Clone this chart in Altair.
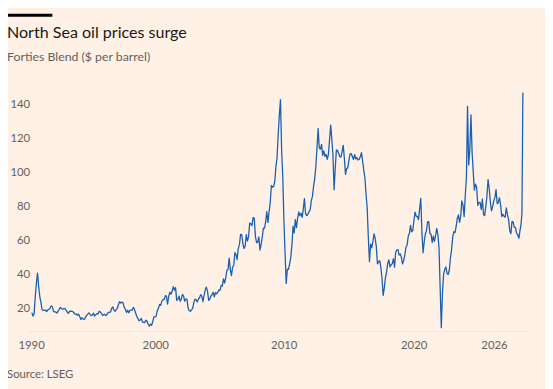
import altair as alt
import pandas as pd

# Forties Blend monthly values ($ per barrel)
p1990 = [17.8, 15.8, 17.2, 27.2, 35.5, 41.0, 32.8, 27.0]  # May-Dec
p1991 = [23.6, 19.5, 19.1, 19.2, 19.2, 18.4, 19.4, 19.8, 20.4, 21.8, 21.2, 18.5]
p1992 = [18.2, 18.2, 17.5, 18.7, 19.7, 20.9, 20.2, 19.8, 20.2, 20.3, 19.3, 18.2]
p1993 = [17.4, 18.5, 18.7, 18.6, 18.4, 17.6, 16.8, 17.0, 16.3, 16.9, 15.4, 13.8]
p1994 = [14.8, 14.0, 13.8, 15.0, 16.2, 16.9, 17.7, 16.8, 16.1, 16.3, 17.5, 15.8]
p1995 = [16.6, 17.2, 17.0, 18.6, 18.3, 17.4, 16.1, 16.6, 16.8, 16.1, 16.9, 18.0]
p1996 = [18.0, 18.2, 20.3, 21.1, 19.3, 18.6, 19.6, 20.5, 22.6, 24.3, 23.4, 24.0]
p1997 = [23.5, 20.9, 19.8, 17.9, 19.2, 17.7, 19.2, 19.3, 19.3, 20.9, 19.6, 17.6]
p1998 = [15.5, 14.3, 13.0, 13.5, 14.4, 12.2, 12.1, 12.0, 13.4, 12.8, 11.0, 9.8]
p1999 = [11.1, 10.3, 12.5, 15.3, 15.3, 15.8, 19.1, 20.3, 22.6, 22.1, 24.6, 25.5]
p2000 = [25.5, 27.8, 27.5, 22.8, 27.3, 29.8, 28.7, 30.2, 33.1, 31.0, 32.5, 25.0]
p2001 = [25.6, 27.5, 24.5, 25.6, 28.5, 27.7, 24.5, 25.8, 25.7, 20.5, 18.9, 18.6]
p2002 = [19.4, 20.3, 23.7, 25.7, 25.4, 24.1, 25.7, 26.6, 28.4, 27.5, 24.3, 28.0]
p2003 = [31.2, 32.8, 30.4, 25.0, 25.8, 27.6, 28.4, 29.8, 27.1, 29.6, 28.8, 29.8]
p2004 = [31.2, 30.9, 33.8, 33.4, 37.7, 35.2, 38.2, 42.7, 43.2, 49.8, 43.1, 39.6]
p2005 = [44.5, 45.5, 53.1, 51.9, 49.0, 55.6, 57.9, 63.8, 63.7, 58.5, 55.5, 56.8]
p2006 = [63.6, 59.9, 62.3, 70.4, 70.0, 68.9, 73.7, 73.2, 62.8, 58.9, 59.1, 62.3]
p2007 = [54.6, 57.8, 62.1, 67.5, 67.5, 71.3, 77.2, 70.8, 77.2, 82.4, 92.5, 91.5]
p2008 = [92.0, 95.0, 103.6, 109.1, 122.8, 134.0, 143.0, 113.2, 97.7, 72.0, 53.0, 35.0]
p2009 = [43.4, 43.3, 46.5, 50.2, 57.3, 68.6, 64.7, 72.5, 67.7, 73.2, 77.0, 74.7]
p2010 = [76.2, 73.8, 78.8, 84.8, 75.9, 74.8, 75.6, 77.1, 78.2, 83.5, 86.1, 92.0]
p2011 = [96.5, 103.7, 114.6, 126.0, 114.5, 113.9, 116.7, 110.2, 112.8, 109.6, 110.8, 107.9]
p2012 = [110.7, 119.3, 128.0, 119.8, 110.3, 90.0, 102.6, 113.4, 113.0, 111.5, 109.5, 109.2]
p2013 = [112.3, 116.1, 108.5, 99.0, 102.6, 102.9, 107.4, 110.9, 111.2, 109.5, 107.8, 110.6]
p2014 = [108.1, 108.9, 107.5, 107.8, 109.5, 111.8, 106.8, 101.6, 97.1, 87.4, 79.4, 62.3]
p2015 = [47.8, 58.1, 55.9, 59.5, 64.1, 61.5, 56.6, 46.5, 47.6, 48.4, 44.3, 38.0]
p2016 = [28.0, 32.2, 38.2, 41.6, 46.7, 48.8, 44.7, 46.0, 46.6, 49.5, 44.5, 53.3]
p2017 = [54.6, 54.9, 51.6, 52.3, 50.3, 46.4, 48.5, 51.7, 56.2, 57.5, 62.7, 64.4]
p2018 = [69.1, 65.3, 66.0, 72.1, 76.9, 74.4, 74.3, 72.5, 78.9, 85.0, 64.8, 53.0]
p2019 = [59.4, 64.0, 66.1, 71.2, 71.3, 64.2, 63.9, 59.0, 62.8, 59.7, 63.2, 67.3]
p2020 = [63.7, 55.7, 32.0, 9.0, 29.4, 40.3, 43.2, 44.7, 40.9, 40.2, 42.7, 49.9]
p2021 = [54.8, 62.3, 65.4, 64.8, 68.5, 73.2, 75.2, 70.8, 74.5, 83.5, 81.1, 74.2]
p2022 = [86.5, 97.1, 139.0, 104.6, 113.3, 134.0, 111.9, 100.5, 89.8, 93.3, 91.4, 80.9]
p2023 = [82.5, 82.6, 78.4, 84.6, 75.5, 74.8, 80.1, 86.2, 96.0, 90.6, 82.9, 77.6]
p2024 = [80.1, 83.5, 85.4, 90.1, 81.8, 82.6, 85.3, 80.9, 74.3, 75.6, 74.4, 73.9]
p2025 = [79.3, 75.2, 72.6, 66.0, 64.2, 71.4, 71.0, 67.9, 67.9, 64.5, 63.6, 61.5]
tail_t = [2026.04, 2026.12, 2026.18, 2026.22, 2026.25]
tail_v = [66.0, 70.0, 76.0, 112.0, 147.0]

years = {
    1990: p1990, 1991: p1991, 1992: p1992, 1993: p1993, 1994: p1994, 1995: p1995,
    1996: p1996, 1997: p1997, 1998: p1998, 1999: p1999, 2000: p2000, 2001: p2001,
    2002: p2002, 2003: p2003, 2004: p2004, 2005: p2005, 2006: p2006, 2007: p2007,
    2008: p2008, 2009: p2009, 2010: p2010, 2011: p2011, 2012: p2012, 2013: p2013,
    2014: p2014, 2015: p2015, 2016: p2016, 2017: p2017, 2018: p2018, 2019: p2019,
    2020: p2020, 2021: p2021, 2022: p2022, 2023: p2023, 2024: p2024, 2025: p2025,
}

y_ticks = [20, 40, 60, 80, 100, 120, 140]
x_labels = ["1990", "2000", "2010", "2020", "2026"]
x_label_pos = [1990.32, 1999.39, 2008.78, 2018.27, 2024.14]

rows = []
for yr, vals in years.items():
    m0 = 4 if yr == 1990 else 0
    for i, v in enumerate(vals):
        rows.append({"t": yr + (m0 + i + 0.5) / 12, "price": v})
for t, v in zip(tail_t, tail_v):
    rows.append({"t": t, "price": v})
df = pd.DataFrame(rows)

label_expr = " : ".join(
    f"abs(datum.value - {p}) < 0.01 ? '{l}'" for p, l in zip(x_label_pos, x_labels)
) + " : ''"

W, H = 507, 247
FONT = "Lato"
GREY = "#66605c"

line = alt.Chart(df).mark_line(color="#1b5fae", strokeWidth=1.3, strokeJoin="round").encode(
    x=alt.X("t:Q", scale=alt.Scale(domain=[1990, 2026.5], nice=False, zero=False),
            axis=alt.Axis(values=x_label_pos, labelExpr=label_expr, title=None,
                          ticks=False, grid=False, domain=True, domainColor="#f6e6d9",
                          labelPadding=9, labelFontSize=11.5, labelColor=GREY,
                          labelFont=FONT, labelFlush=False)),
    y=alt.Y("price:Q", scale=alt.Scale(domain=[7, 150], nice=False, zero=False),
            axis=alt.Axis(values=y_ticks, title=None, ticks=False, grid=False,
                          domain=False, labelPadding=-3, labelFontSize=11.5,
                          labelColor=GREY, labelFont=FONT)),
)

bar = alt.Chart(pd.DataFrame({"k": [1]})).mark_rule(color="#000000", strokeWidth=3).encode(
    x=alt.value(-20), x2=alt.value(26), y=alt.value(-73.5)
)

title = alt.Chart(pd.DataFrame({"s": ["North Sea oil prices surge"]})).mark_text(
    align="left", baseline="alphabetic", fontSize=16.3, font=FONT, color="#1a1817"
).encode(text="s:N", x=alt.value(-20), y=alt.value(-50))

subtitle = alt.Chart(pd.DataFrame({"s": ["Forties Blend ($ per barrel)"]})).mark_text(
    align="left", baseline="alphabetic", fontSize=12.5, font=FONT, color=GREY
).encode(text="s:N", x=alt.value(-20), y=alt.value(-27))

source = alt.Chart(pd.DataFrame({"s": ["Source: LSEG"]})).mark_text(
    align="left", baseline="alphabetic", fontSize=11.5, font=FONT, color=GREY
).encode(text="s:N", x=alt.value(-20), y=alt.value(295))

chart = alt.layer(line, bar, title, subtitle, source).properties(
    width=W, height=H,
    autosize=alt.AutoSizeParams(type="none"),
    padding={"left": 19, "top": 78, "right": 19, "bottom": 56},
    background="#fff1e5",
).configure_view(stroke=None)

chart.save("out.html", embed_options={"renderer": "svg", "actions": False})
